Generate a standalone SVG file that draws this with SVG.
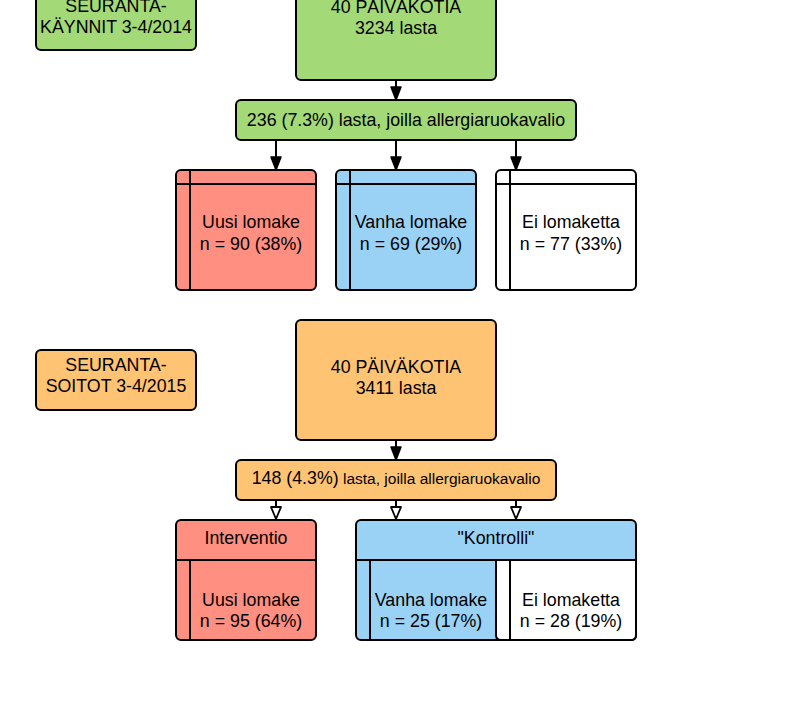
<svg xmlns="http://www.w3.org/2000/svg" width="790" height="704" viewBox="0 0 790 704">
<defs>
<style>
.b{stroke:#000;stroke-width:2;stroke-linejoin:round}
.g{fill:#a3d977}.o{fill:#ffc374}.r{fill:#ff8f80}.bl{fill:#9ad2f5}.w{fill:#fff}
.ln{stroke:#000;stroke-width:2;fill:none}
text{font-family:"Liberation Sans",Arial,sans-serif;font-size:17.8px;fill:#000;text-anchor:middle}
.s{font-size:15.5px}
</style>
<marker id="af" markerWidth="16" markerHeight="12" refX="14" refY="6" orient="auto" markerUnits="userSpaceOnUse" viewBox="0 0 16 12">
<path d="M1,1 L14,6 L1,11 Z" fill="#000" stroke="#000" stroke-width="1.5" stroke-linejoin="round"/>
</marker>
</defs>
<rect width="790" height="704" fill="#fff"/>

<g id="seuranta2014">
<rect class="b g" x="36" y="-10" width="160" height="60" rx="5"/>
<text x="116" y="12">SEURANTA-</text>
<text x="116" y="33">KÄYNNIT 3-4/2014</text>
</g>
<g id="paivakodit2014">
<rect class="b g" x="296" y="-40" width="200" height="120" rx="5"/>
<text x="396" y="13">40 PÄIVÄKOTIA</text>
<text x="396" y="34">3234 lasta</text>
</g>
<g id="allergia2014">
<rect class="b g" x="236" y="100" width="340" height="40" rx="5"/>
<text x="406" y="126">236 (7.3%) lasta, joilla allergiaruokavalio</text>
</g>
<g id="uusi2014">
<rect class="b r" x="176" y="170" width="140" height="120" rx="5"/>
<path class="ln" d="M190,170 V290 M176,184 H316"/>
<text x="251" y="228">Uusi lomake</text>
<text x="251" y="250">n = 90 (38%)</text>
</g>
<g id="vanha2014">
<rect class="b bl" x="336" y="170" width="140" height="120" rx="5"/>
<path class="ln" d="M350,170 V290 M336,184 H476"/>
<text x="411" y="228">Vanha lomake</text>
<text x="411" y="250">n = 69 (29%)</text>
</g>
<g id="ei2014">
<rect class="b w" x="496" y="170" width="140" height="120" rx="5"/>
<path class="ln" d="M510,170 V290 M496,184 H636"/>
<text x="571" y="228">Ei lomaketta</text>
<text x="571" y="250">n = 77 (33%)</text>
</g>

<g id="seuranta2015">
<rect class="b o" x="36" y="350" width="160" height="60" rx="5"/>
<text x="116" y="371">SEURANTA-</text>
<text x="116" y="392">SOITOT 3-4/2015</text>
</g>
<g id="paivakodit2015">
<rect class="b o" x="296" y="320" width="200" height="120" rx="5"/>
<text x="396" y="373">40 PÄIVÄKOTIA</text>
<text x="396" y="394">3411 lasta</text>
</g>
<g id="allergia2015">
<rect class="b o" x="236" y="460" width="320" height="40" rx="5"/>
<text x="396" y="484"><tspan>148 (4.3%)</tspan><tspan class="s"> lasta, joilla allergiaruokavalio</tspan></text>
</g>
<g id="interventio">
<rect class="b r" x="176" y="520" width="140" height="120" rx="5"/>
<path class="ln" d="M176,560 H316 M190,560 V640"/>
<text x="246" y="544">Interventio</text>
<text x="251" y="606">Uusi lomake</text>
<text x="251" y="627">n = 95 (64%)</text>
</g>
<g id="kontrolli">
<rect class="b bl" x="356" y="520" width="280" height="120" rx="5"/>
<path class="b w" d="M496,560 H636 V635 Q636,640 631,640 H501 Q496,640 496,635 Z"/>
<path class="ln" d="M356,560 H636 M370,560 V640 M510,560 V640"/>
<text x="496" y="544">"Kontrolli"</text>
<text x="431" y="606">Vanha lomake</text>
<text x="431" y="627">n = 25 (17%)</text>
<text x="571" y="606">Ei lomaketta</text>
<text x="571" y="627">n = 28 (19%)</text>
</g>

<g id="connectors">
<path class="ln" d="M396,80 V100" marker-end="url(#af)"/>
<path class="ln" d="M276,140 V170" marker-end="url(#af)"/>
<path class="ln" d="M396,140 V170" marker-end="url(#af)"/>
<path class="ln" d="M516,140 V170" marker-end="url(#af)"/>
<path class="ln" d="M396,440 V460" marker-end="url(#af)"/>
<path class="ln" d="M276,500 V507 M396,500 V507 M516,500 V507"/>
<path d="M271,507 H281 L276,519 Z M391,507 H401 L396,519 Z M511,507 H521 L516,519 Z" fill="#fff" stroke="#000" stroke-width="1.8" stroke-linejoin="round"/>
</g>
</svg>
